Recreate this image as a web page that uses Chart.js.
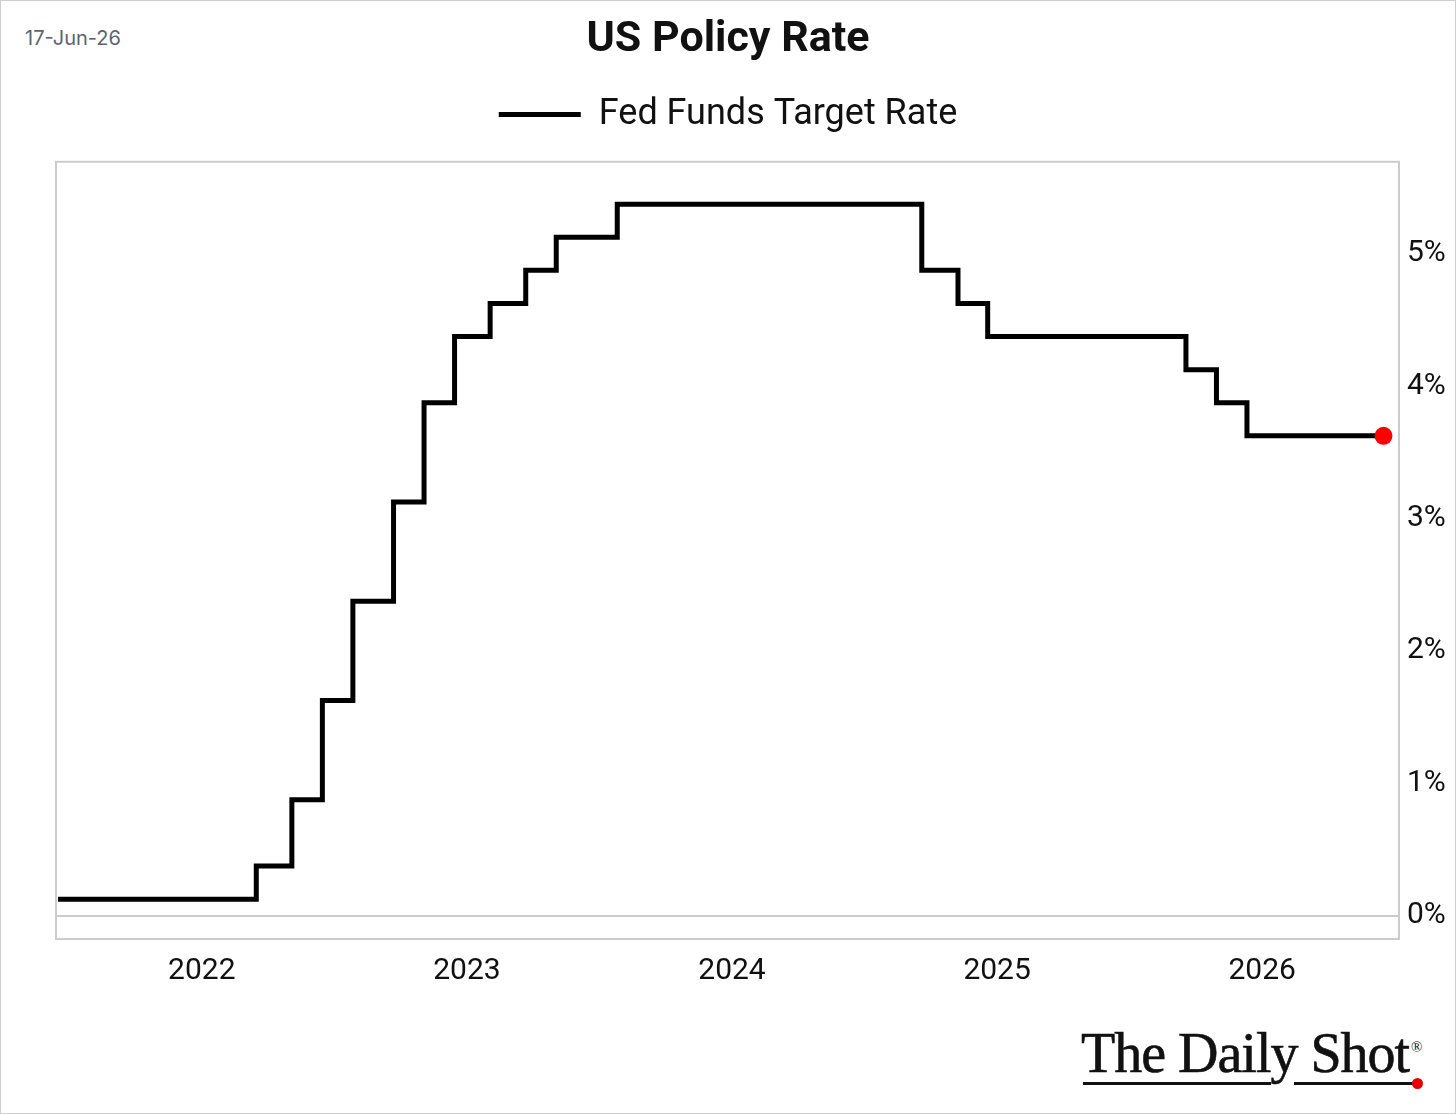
<!DOCTYPE html>
<html>
<head>
<meta charset="utf-8">
<script src="https://cdn.jsdelivr.net/npm/chart.js@4.4.1/dist/chart.umd.min.js"></script>
<style>
  html, body { margin: 0; padding: 0; background: #fff; }
  #page { position: relative; width: 1454px; height: 1112px; border: 1px solid #cfcfcf; overflow: hidden; }
  #wrap { position: absolute; left: 0; top: 0; width: 1454px; height: 1010px; }
  #stamp { position: absolute; left: 24px; top: 25px; font-family: Inter, "Noto Sans", sans-serif; font-size: 20px; color: #5d6570; }
  #logo { position: absolute; left: 1080px; top: 1024px; width: 360px; height: 70px; }
  #logo .txt { position: absolute; left: 0; top: -4px; font-family: "Liberation Serif", "DejaVu Serif", serif; font-size: 56px; letter-spacing: -1px; color: #111; white-space: nowrap; -webkit-text-stroke: 0.6px #111; }
  #logo .reg { position: absolute; left: 330px; top: 14px; font-family: "Liberation Serif", serif; font-size: 15px; color: #111; }
  #logo .bar { position: absolute; height: 3px; background: #111; top: 57px; }
  #logo .dot { position: absolute; width: 11px; height: 11px; border-radius: 50%; background: #e60000; left: 331px; top: 53px; }
</style>
</head>
<body>
<div id="page">
  <div id="stamp">17-Jun-26</div>
  <div id="wrap"><canvas id="rateChart"></canvas></div>
  <div id="logo">
    <div class="txt">The Daily Shot</div>
    <div class="reg">®</div>
    <div class="bar" style="left:2px;width:188px"></div>
    <div class="bar" style="left:213px;width:120px"></div>
    <div class="dot"></div>
  </div>
</div>
<script>
// Fed funds target (midpoint of range), change dates
const dates = ['2021-06-17', '2022-03-17', '2022-05-05', '2022-06-16', '2022-07-28', '2022-09-22',
  '2022-11-03', '2022-12-15', '2023-02-02', '2023-03-23', '2023-05-04', '2023-07-27',
  '2024-09-19', '2024-11-08', '2024-12-19', '2025-09-18', '2025-10-30', '2025-12-11', '2026-06-17'];
const rates = [0.125, 0.375, 0.875, 1.625, 2.375, 3.125, 3.875, 4.375, 4.625, 4.875, 5.125, 5.375,
  4.875, 4.625, 4.375, 4.125, 3.875, 3.625, 3.625];
const yearTicks = [2022, 2023, 2024, 2025, 2026];
const pctTicks = [0, 1, 2, 3, 4, 5];

function toYear(s) {
  const d = new Date(s + 'T00:00:00Z');
  const y = d.getUTCFullYear();
  const a = Date.UTC(y, 0, 1), b = Date.UTC(y + 1, 0, 1);
  return y + (d - a) / (b - a);
}

const points = dates.map((d, i) => ({ x: toYear(d), y: rates[i] }));
const lastIdx = points.length - 1;
const fam = 'Roboto, "Noto Sans", sans-serif';
const tickFont = { family: fam, size: 30 };

// grey frame round the plot area
const frame = {
  id: 'frame',
  beforeDatasetsDraw(chart) {
    const a = chart.chartArea, c = chart.ctx;
    c.save();
    c.strokeStyle = '#cccccc';
    c.lineWidth = 2;
    c.strokeRect(a.left, a.top, a.right - a.left, a.bottom - a.top);
    c.restore();
  }
};

new Chart(document.getElementById('rateChart').getContext('2d'), {
  type: 'line',
  data: {
    datasets: [{
      label: 'Fed Funds Target Rate',
      data: points,
      borderColor: '#000',
      backgroundColor: '#000',
      borderWidth: 5,
      stepped: true,
      pointRadius: ctx => ctx.dataIndex === lastIdx ? 9 : 0,
      pointBackgroundColor: ctx => ctx.dataIndex === lastIdx ? '#ff0000' : '#000',
      pointBorderColor: '#000',
      // legend sample takes its stroke from point 0
      pointBorderWidth: ctx => ctx.dataIndex === lastIdx ? 0 : 5,
      pointHoverRadius: 0
    }]
  },
  options: {
    responsive: true,
    maintainAspectRatio: false,
    animation: false,
    layout: { padding: 0 },
    plugins: {
      title: {
        display: true,
        text: 'US Policy Rate',
        color: '#111',
        font: { family: fam, size: 43, weight: 'bold' },
        padding: { top: 13, bottom: 11 }
      },
      // empty subtitle used as spacer under the legend
      subtitle: {
        display: true,
        text: '',
        weight: 500,
        font: { size: 1 },
        padding: { top: 18, bottom: 0 }
      },
      legend: {
        display: true,
        labels: {
          color: '#111',
          font: { family: fam, size: 36 },
          usePointStyle: true,
          pointStyle: 'line',
          pointStyleWidth: 82,
          padding: 20
        }
      },
      tooltip: { enabled: false }
    },
    scales: {
      x: {
        type: 'linear',
        min: 2021.45,
        max: 2026.516,
        afterBuildTicks: axis => { axis.ticks = yearTicks.map(v => ({ value: v })); },
        afterFit: axis => { axis.height = 72; },
        grid: { display: false, drawTicks: false },
        border: { display: false },
        ticks: { color: '#111', font: tickFont, padding: 14, maxRotation: 0, callback: v => String(v) }
      },
      y: {
        position: 'right',
        min: -0.176,
        max: 5.695,
        afterBuildTicks: axis => { axis.ticks = pctTicks.map(v => ({ value: v })); },
        afterFit: axis => { axis.width = 56; },
        grid: {
          drawTicks: false,
          lineWidth: 2,
          color: ctx => ctx.tick && ctx.tick.value === 0 ? '#cccccc' : 'rgba(0,0,0,0)'
        },
        border: { display: false },
        ticks: { color: '#111', font: tickFont, padding: 8, callback: v => v + '%' }
      },
      // empty left axis, only keeps the left margin
      yLeft: {
        position: 'left',
        min: 0,
        max: 1,
        afterFit: axis => { axis.width = 55; },
        grid: { display: false, drawTicks: false },
        border: { display: false },
        ticks: { display: false }
      }
    }
  },
  plugins: [frame]
});
</script>
</body>
</html>
